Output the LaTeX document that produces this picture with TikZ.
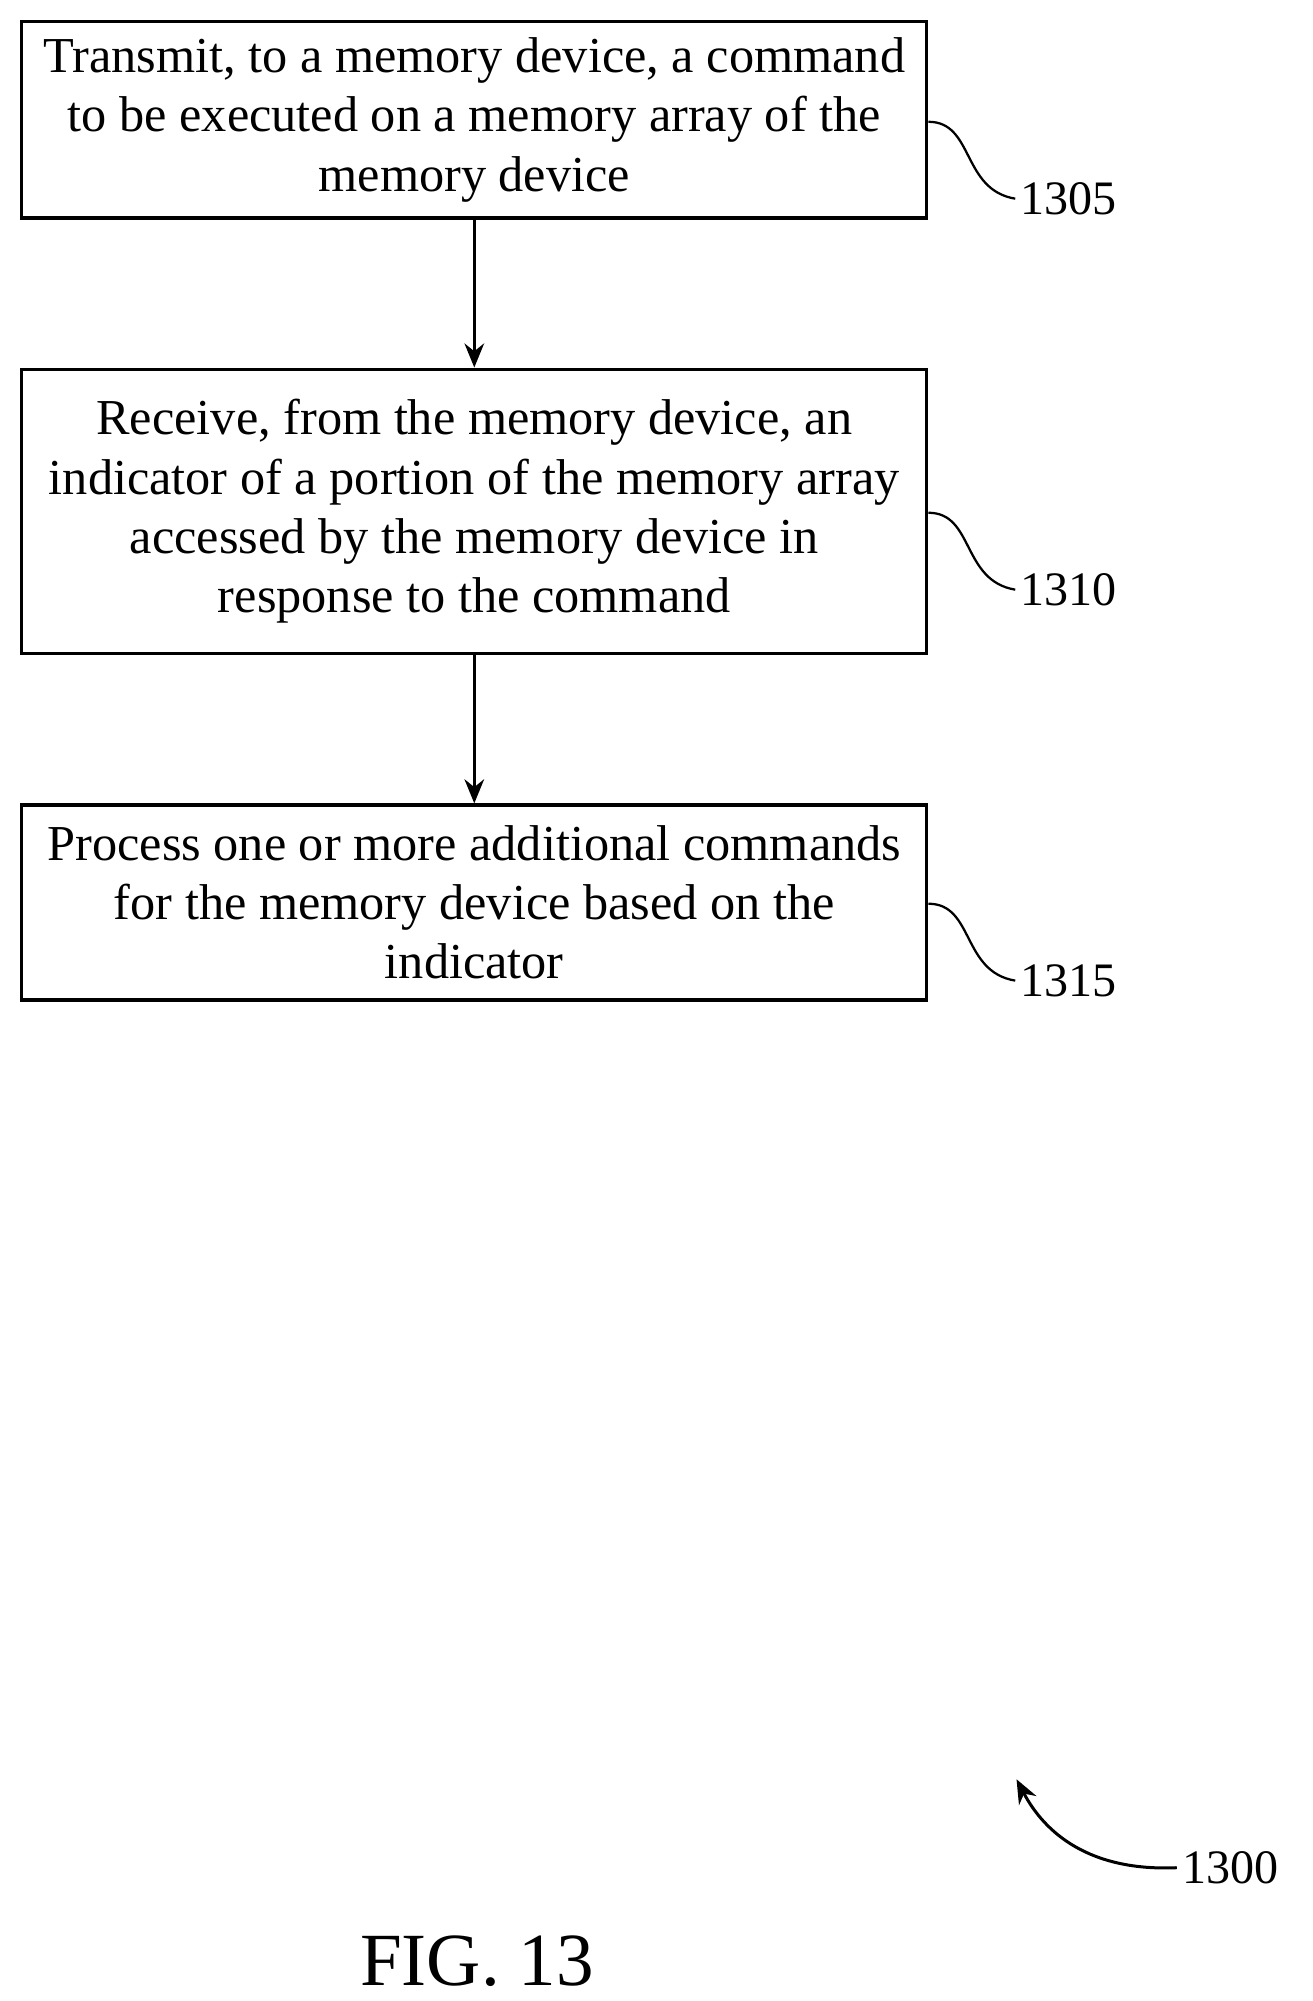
\documentclass[tikz,border=0pt]{standalone}
\usepackage{fontspec}
\setmainfont{Liberation Serif}
\usetikzlibrary{arrows.meta}
\begin{document}
\begin{tikzpicture}[x=0.03cm,y=-0.03cm,
 box/.style={draw,line width=2.2pt,minimum width=706*0.03cm,align=center,inner sep=0pt,font=\fontsize{33.5}{39.5}\selectfont},
 lbl/.style={font=\fontsize{32}{36}\selectfont},
 arr/.style={line width=2.2pt,-{Stealth[length=16pt,width=13pt]}},
 sq/.style={line width=1.5pt}]
\useasboundingbox (0,0) rectangle (1024,1561);
\node[box,minimum height=153*0.03cm] (b1) at (370,93.5) {Transmit, to a memory device, a command\\to be executed on a memory array of the\\memory device};
\node[box,minimum height=222*0.03cm] (b2) at (370,399) {Receive, from the memory device, an\\indicator of a portion of the memory array\\accessed by the memory device in\\response to the command};
\node[box,minimum height=152*0.03cm] (b3) at (370,704) {Process one or more additional commands\\for the memory device based on the\\indicator};
\draw[arr] (b1) -- (b2);
\draw[arr] (b2) -- (b3);
\node[lbl,anchor=west] (l1) at (792,155) {1305};
\node[lbl,anchor=west] (l2) at (792,460) {1310};
\node[lbl,anchor=west] (l3) at (792,765) {1315};
\draw[sq] (b1.east|-0,95) .. controls (760,95) and (750,148) .. (l1.west);
\draw[sq] (b2.east|-0,400) .. controls (760,400) and (750,453) .. (l2.west);
\draw[sq] (b3.east|-0,705) .. controls (760,705) and (750,758) .. (l3.west);
\node[lbl,anchor=west] (l0) at (918,1457) {1300};
\coordinate (a0) at (793,1388);
\draw[line width=2pt,-{Stealth[length=16pt,width=13pt]}] (l0.west) .. controls (850,1460) and (815,1430) .. (a0);
\node[font=\fontsize{50}{56}\selectfont] (fig) at (372,1530) {FIG. 13};
\end{tikzpicture}
\end{document}
